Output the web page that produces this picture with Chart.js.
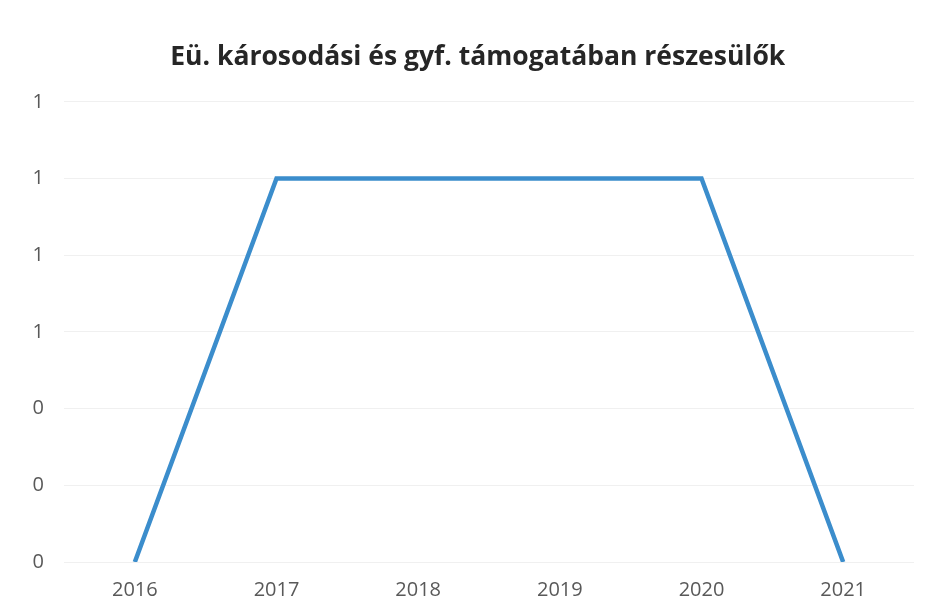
<!DOCTYPE html>
<html>
<head>
<meta charset="utf-8">
<script src="https://cdn.jsdelivr.net/npm/chart.js@4"></script>
<style>
  html, body { margin: 0; padding: 0; background: #fff; }
  #wrap { width: 929px; height: 609px; }
</style>
</head>
<body>
<div id="wrap"><canvas id="myChart" width="929" height="609"></canvas></div>
<script>
var years = ['2016', '2017', '2018', '2019', '2020', '2021'];
var recipients = [0, 1, 1, 1, 1, 0];
var chartTitle = '\u00a0\u00a0\u00a0\u00a0Eü. károsodási és gyf. támogatában részesülők';

var config = {
    type: 'line',
    data: {
        labels: years,
        datasets: [{
            label: 'Részesülők',
            data: recipients,
            borderColor: '#3b8dcc',
            borderWidth: 4.5,
            pointRadius: 0,
            tension: 0,
            fill: false
        }]
    },
    options: {
        responsive: false,
        animation: false,
        layout: { padding: { left: 14, right: 15, top: 10, bottom: 0 } },
        plugins: {
            legend: { display: false },
            tooltip: { enabled: false },
            title: {
                display: true,
                text: chartTitle,
                color: '#262626',
                font: { family: 'Open Sans', size: 26.5, weight: 'bold' },
                padding: { top: 32, bottom: 28 }
            }
        },
        scales: {
            x: {
                offset: true,
                afterFit: function (scale) { scale.height = 47; },
                grid: { display: false },
                border: { display: false },
                ticks: {
                    color: '#595959',
                    font: { family: 'Open Sans', size: 20 },
                    padding: 8
                }
            },
            y: {
                min: 0,
                max: 1.2,
                afterFit: function (scale) { scale.width = 50; },
                grid: { color: '#f0f0f0', lineWidth: 1, drawTicks: false },
                border: { display: false },
                ticks: {
                    stepSize: 0.2,
                    color: '#595959',
                    font: { family: 'Open Sans', size: 20 },
                    padding: 20,
                    callback: function (value) { return Math.round(value); }
                }
            }
        }
    }
};

new Chart(document.getElementById('myChart'), config);
</script>
</body>
</html>
